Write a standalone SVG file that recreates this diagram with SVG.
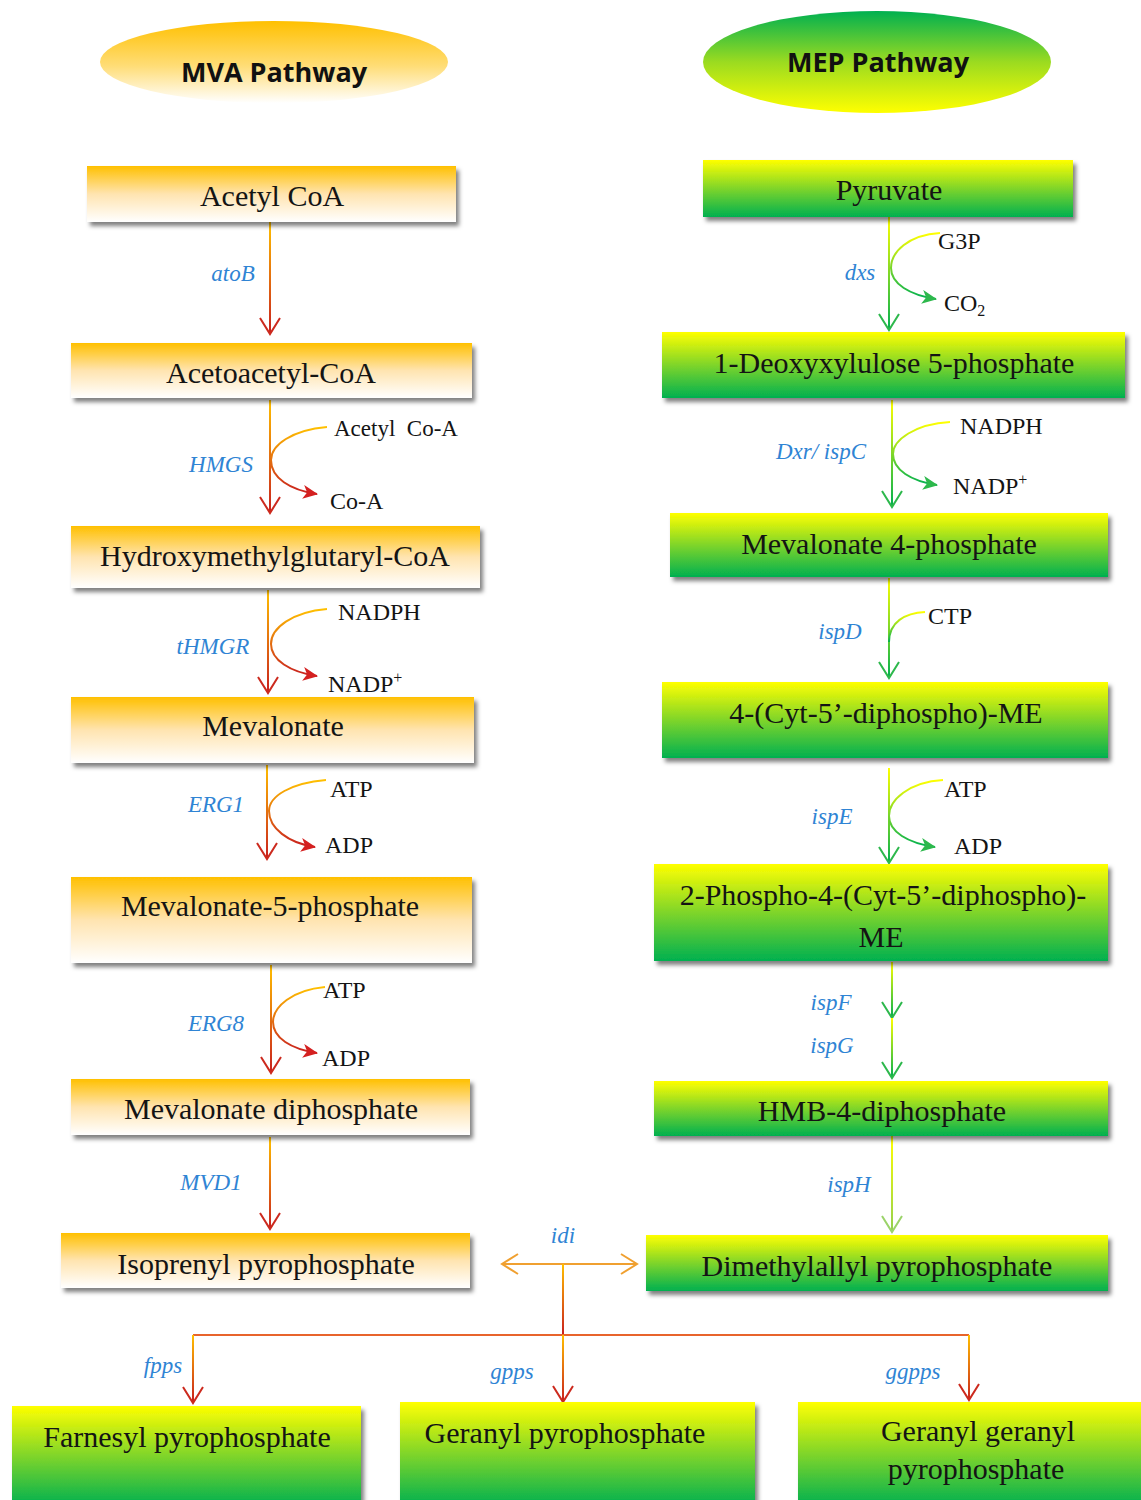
<svg xmlns="http://www.w3.org/2000/svg" xmlns:xlink="http://www.w3.org/1999/xlink" width="1141" height="1500" viewBox="0 0 1141 1500">
<defs>
<style>
.t{font-family:"Liberation Serif",serif;font-size:30px;fill:#141414;text-anchor:middle}
.h{font-family:"Open Sans","DejaVu Sans",sans-serif;font-weight:700;font-size:27px;fill:#111;text-anchor:middle}
.e{font-family:"Liberation Serif",serif;font-style:italic;font-size:23px;fill:#2F84D4;text-anchor:middle}
.s{font-family:"Liberation Serif",serif;font-size:24px;fill:#141414}
.mva{fill:url(#gMvaBox);filter:url(#sh)}
.mep{fill:url(#gMepBox);filter:url(#sh)}
.ln{fill:none;stroke-width:2}
.cv{fill:none;stroke-width:2}
</style>
<filter id="sh" x="-5%" y="-10%" width="115%" height="140%">
<feDropShadow dx="3" dy="4" stdDeviation="2" flood-color="#000" flood-opacity="0.5"/>
</filter>
<linearGradient id="gMvaBox" x1="0" y1="0" x2="0" y2="1">
<stop offset="0" stop-color="#FFC000"/><stop offset="0.5" stop-color="#FFE4B0"/><stop offset="1" stop-color="#FFFFFF"/>
</linearGradient>
<linearGradient id="gMepBox" x1="0" y1="0" x2="0" y2="1">
<stop offset="0" stop-color="#FFFF00"/><stop offset="0.5" stop-color="#7FD52A"/><stop offset="1" stop-color="#00B050"/>
</linearGradient>
<linearGradient id="gMvaEl" x1="0" y1="0" x2="0" y2="1">
<stop offset="0" stop-color="#FFC000"/><stop offset="0.55" stop-color="#FFDD77"/><stop offset="1" stop-color="#FFFFFF"/>
</linearGradient>
<linearGradient id="gMepEl" x1="0" y1="0" x2="0" y2="1">
<stop offset="0" stop-color="#00B050"/><stop offset="0.5" stop-color="#9BDB20"/><stop offset="1" stop-color="#FFFF00"/>
</linearGradient>
<linearGradient id="gOR" x1="0" y1="0" x2="0" y2="1">
<stop offset="0" stop-color="#FFC000"/><stop offset="1" stop-color="#C81E1E"/>
</linearGradient>
<linearGradient id="gYG" x1="0" y1="0" x2="0" y2="1">
<stop offset="0" stop-color="#FFFF00"/><stop offset="1" stop-color="#00B050"/>
</linearGradient>
<linearGradient id="gYL" x1="0" y1="0" x2="0" y2="1">
<stop offset="0" stop-color="#FFFF00"/><stop offset="1" stop-color="#92D050"/>
</linearGradient>
<linearGradient id="m1" xlink:href="#gOR" gradientUnits="userSpaceOnUse" x1="0" y1="222" x2="0" y2="334"/>
<linearGradient id="m2" xlink:href="#gOR" gradientUnits="userSpaceOnUse" x1="0" y1="400" x2="0" y2="513"/>
<linearGradient id="m3" xlink:href="#gOR" gradientUnits="userSpaceOnUse" x1="0" y1="590" x2="0" y2="693"/>
<linearGradient id="m4" xlink:href="#gOR" gradientUnits="userSpaceOnUse" x1="0" y1="765" x2="0" y2="859"/>
<linearGradient id="m5" xlink:href="#gOR" gradientUnits="userSpaceOnUse" x1="0" y1="965" x2="0" y2="1073"/>
<linearGradient id="m6" xlink:href="#gOR" gradientUnits="userSpaceOnUse" x1="0" y1="1137" x2="0" y2="1229"/>
<linearGradient id="p1" xlink:href="#gYG" gradientUnits="userSpaceOnUse" x1="0" y1="217" x2="0" y2="330"/>
<linearGradient id="p2" xlink:href="#gYG" gradientUnits="userSpaceOnUse" x1="0" y1="400" x2="0" y2="507"/>
<linearGradient id="p3" xlink:href="#gYG" gradientUnits="userSpaceOnUse" x1="0" y1="578" x2="0" y2="678"/>
<linearGradient id="p4" xlink:href="#gYG" gradientUnits="userSpaceOnUse" x1="0" y1="768" x2="0" y2="863"/>
<linearGradient id="p5a" xlink:href="#gYG" gradientUnits="userSpaceOnUse" x1="0" y1="962" x2="0" y2="1018"/>
<linearGradient id="p5b" xlink:href="#gYG" gradientUnits="userSpaceOnUse" x1="0" y1="1018" x2="0" y2="1078"/>
<linearGradient id="p6" xlink:href="#gYL" gradientUnits="userSpaceOnUse" x1="0" y1="1136" x2="0" y2="1232"/>
<linearGradient id="b1" xlink:href="#gOR" gradientUnits="userSpaceOnUse" x1="0" y1="1264" x2="0" y2="1335"/>
<linearGradient id="b2" xlink:href="#gOR" gradientUnits="userSpaceOnUse" x1="0" y1="1335" x2="0" y2="1402"/>
<marker id="vR" viewBox="0 0 20 24" refX="18" refY="12" markerWidth="20" markerHeight="24" markerUnits="userSpaceOnUse" orient="auto">
<path d="M2,2 L18,12 L2,22" fill="none" stroke="#CC2A1E" stroke-width="2"/>
</marker>
<marker id="vO" viewBox="0 0 20 24" refX="18" refY="12" markerWidth="20" markerHeight="24" markerUnits="userSpaceOnUse" orient="auto-start-reverse">
<path d="M2,2 L18,12 L2,22" fill="none" stroke="#F0A030" stroke-width="2"/>
</marker>
<marker id="vG" viewBox="0 0 20 24" refX="18" refY="12" markerWidth="20" markerHeight="24" markerUnits="userSpaceOnUse" orient="auto">
<path d="M2,2 L18,12 L2,22" fill="none" stroke="#2DB84C" stroke-width="2"/>
</marker>
<marker id="vL" viewBox="0 0 20 24" refX="18" refY="12" markerWidth="20" markerHeight="24" markerUnits="userSpaceOnUse" orient="auto">
<path d="M2,2 L18,12 L2,22" fill="none" stroke="#9BD36A" stroke-width="2"/>
</marker>
<marker id="fR" viewBox="0 0 16 14" refX="14" refY="7" markerWidth="16" markerHeight="14" markerUnits="userSpaceOnUse" orient="auto">
<path d="M0,0 L15,7 L0,14 L4,7 z" fill="#D42020"/>
</marker>
<marker id="fG" viewBox="0 0 16 14" refX="14" refY="7" markerWidth="16" markerHeight="14" markerUnits="userSpaceOnUse" orient="auto">
<path d="M0,0 L15,7 L0,14 L4,7 z" fill="#2DB84C"/>
</marker>
</defs>

<g id="title-mva">
<ellipse cx="274" cy="62" rx="174" ry="41" fill="url(#gMvaEl)"/>
<text class="h" x="274" y="82">MVA Pathway</text>
</g>
<g id="title-mep">
<ellipse cx="877" cy="62" rx="174" ry="51" fill="url(#gMepEl)"/>
<text class="h" x="878" y="72">MEP Pathway</text>
</g>

<g id="connectors">
<path class="ln" d="M270,222 L270,334" stroke="url(#m1)" marker-end="url(#vR)"/>
<path class="ln" d="M270,400 L270,513" stroke="url(#m2)" marker-end="url(#vR)"/>
<path class="ln" d="M268,590 L268,693" stroke="url(#m3)" marker-end="url(#vR)"/>
<path class="ln" d="M267,765 L267,859" stroke="url(#m4)" marker-end="url(#vR)"/>
<path class="ln" d="M271,965 L271,1073" stroke="url(#m5)" marker-end="url(#vR)"/>
<path class="ln" d="M270,1137 L270,1229" stroke="url(#m6)" marker-end="url(#vR)"/>
<path class="cv" d="M327,427 C292,430 271,445 271,460 C271,478 290,490 317,494" stroke="url(#gOR)" marker-end="url(#fR)"/>
<path class="cv" d="M327,609 C292,612 271,628 271,644 C271,660 290,672 317,676" stroke="url(#gOR)" marker-end="url(#fR)"/>
<path class="cv" d="M326,780 C291,783 269,796 269,811 C269,828 288,843 315,847" stroke="url(#gOR)" marker-end="url(#fR)"/>
<path class="cv" d="M325,987 C292,990 273,1007 273,1022 C273,1038 291,1049 317,1053" stroke="url(#gOR)" marker-end="url(#fR)"/>
<path class="ln" d="M889,217 L889,330" stroke="url(#p1)" marker-end="url(#vG)"/>
<path class="ln" d="M892,400 L892,507" stroke="url(#p2)" marker-end="url(#vG)"/>
<path class="ln" d="M889,578 L889,678" stroke="url(#p3)" marker-end="url(#vG)"/>
<path class="ln" d="M889,768 L889,863" stroke="url(#p4)" marker-end="url(#vG)"/>
<path class="ln" d="M892,962 L892,1018" stroke="url(#p5a)" marker-end="url(#vG)"/>
<path class="ln" d="M892,1018 L892,1078" stroke="url(#p5b)" marker-end="url(#vG)"/>
<path class="ln" d="M892,1136 L892,1232" stroke="url(#p6)" marker-end="url(#vL)"/>
<path class="cv" d="M940,233 C908,235 891,252 891,268 C891,284 910,295 936,299" stroke="url(#gYG)" marker-end="url(#fG)"/>
<path class="cv" d="M950,422 C915,424 893,440 893,454 C893,470 911,481 937,485" stroke="url(#gYG)" marker-end="url(#fG)"/>
<path class="cv" d="M925,612 C905,613 889,622 889,642" stroke="url(#gYG)"/>
<path class="cv" d="M943,780 C909,782 889,800 889,816 C889,832 908,843 935,847" stroke="url(#gYG)" marker-end="url(#fG)"/>
<path class="ln" d="M502,1264 L637,1264" stroke="#F0A030" marker-start="url(#vO)" marker-end="url(#vO)"/>
<path class="ln" d="M563,1264 L563,1335" stroke="url(#b1)"/>
<path class="ln" d="M193,1335 L969,1335" stroke="#E8642C"/>
<path class="ln" d="M563,1335 L563,1402" stroke="url(#b2)" marker-end="url(#vR)"/>
<path class="ln" d="M193,1335 L193,1403" stroke="url(#b2)" marker-end="url(#vR)"/>
<path class="ln" d="M969,1335 L969,1400" stroke="url(#b2)" marker-end="url(#vR)"/>
</g>

<g id="enzyme-labels">
<text class="e" x="233" y="281">atoB</text>
<text class="e" x="221" y="472">HMGS</text>
<text class="e" x="213" y="654">tHMGR</text>
<text class="e" x="216" y="812">ERG1</text>
<text class="e" x="216" y="1031">ERG8</text>
<text class="e" x="211" y="1190">MVD1</text>
<text class="e" x="860" y="280">dxs</text>
<text class="e" x="821" y="459">Dxr/ ispC</text>
<text class="e" x="840" y="639">ispD</text>
<text class="e" x="832" y="824">ispE</text>
<text class="e" x="831" y="1010">ispF</text>
<text class="e" x="832" y="1053">ispG</text>
<text class="e" x="849" y="1192">ispH</text>
<text class="e" x="563" y="1243">idi</text>
<text class="e" x="163" y="1373">fpps</text>
<text class="e" x="512" y="1379">gpps</text>
<text class="e" x="913" y="1379">ggpps</text>
</g>

<g id="side-labels">
<text class="s" x="334" y="436" style="font-size:23px">Acetyl&#160; Co-A</text>
<text class="s" x="330" y="509">Co-A</text>
<text class="s" x="338" y="620">NADPH</text>
<text class="s" x="328" y="692">NADP<tspan font-size="16" dy="-9">+</tspan></text>
<text class="s" x="330" y="797">ATP</text>
<text class="s" x="325" y="853">ADP</text>
<text class="s" x="323" y="998">ATP</text>
<text class="s" x="322" y="1066">ADP</text>
<text class="s" x="938" y="249">G3P</text>
<text class="s" x="944" y="311">CO<tspan font-size="16" dy="5">2</tspan></text>
<text class="s" x="960" y="434">NADPH</text>
<text class="s" x="953" y="494">NADP<tspan font-size="16" dy="-9">+</tspan></text>
<text class="s" x="928" y="624">CTP</text>
<text class="s" x="944" y="797">ATP</text>
<text class="s" x="954" y="854">ADP</text>
</g>

<g id="acetyl-coa"><rect class="mva" x="87" y="166" width="369" height="56"/><text class="t" x="272" y="206">Acetyl CoA</text></g>
<g id="acetoacetyl-coa"><rect class="mva" x="71" y="343" width="401" height="55"/><text class="t" x="271" y="383">Acetoacetyl-CoA</text></g>
<g id="hmg-coa"><rect class="mva" x="71" y="526" width="409" height="62"/><text class="t" x="275" y="566">Hydroxymethylglutaryl-CoA</text></g>
<g id="mevalonate"><rect class="mva" x="71" y="697" width="403" height="66"/><text class="t" x="273" y="736">Mevalonate</text></g>
<g id="mevalonate-5-phosphate"><rect class="mva" x="71" y="877" width="401" height="86"/><text class="t" x="270" y="916">Mevalonate-5-phosphate</text></g>
<g id="mevalonate-diphosphate"><rect class="mva" x="71" y="1079" width="399" height="56"/><text class="t" x="271" y="1119">Mevalonate diphosphate</text></g>
<g id="isoprenyl-pp"><rect class="mva" x="61" y="1233" width="409" height="55"/><text class="t" x="266" y="1274">Isoprenyl pyrophosphate</text></g>

<g id="pyruvate"><rect class="mep" x="703" y="160" width="370" height="57"/><text class="t" x="889" y="200">Pyruvate</text></g>
<g id="dxp"><rect class="mep" x="662" y="332" width="463" height="66"/><text class="t" x="894" y="373">1-Deoxyxylulose 5-phosphate</text></g>
<g id="mevalonate-4-phosphate"><rect class="mep" x="670" y="513" width="438" height="64"/><text class="t" x="889" y="554">Mevalonate 4-phosphate</text></g>
<g id="cdp-me"><rect class="mep" x="662" y="682" width="446" height="76"/><text class="t" x="886" y="723">4-(Cyt-5’-diphospho)-ME</text></g>
<g id="cdp-mep"><rect class="mep" x="654" y="864" width="454" height="97"/><text class="t" x="883" y="905">2-Phospho-4-(Cyt-5’-diphospho)-</text><text class="t" x="881" y="947">ME</text></g>
<g id="hmb-pp"><rect class="mep" x="654" y="1081" width="454" height="55"/><text class="t" x="882" y="1121">HMB-4-diphosphate</text></g>
<g id="dmapp"><rect class="mep" x="646" y="1235" width="462" height="56"/><text class="t" x="877" y="1276">Dimethylallyl pyrophosphate</text></g>

<g id="fpp"><rect class="mep" x="12" y="1406" width="349" height="100"/><text class="t" x="187" y="1447">Farnesyl pyrophosphate</text></g>
<g id="gpp"><rect class="mep" x="400" y="1402" width="355" height="104"/><text class="t" x="565" y="1443">Geranyl pyrophosphate</text></g>
<g id="ggpp"><rect class="mep" x="798" y="1402" width="350" height="104"/><text class="t" x="978" y="1441">Geranyl geranyl</text><text class="t" x="976" y="1479">pyrophosphate</text></g>
</svg>
